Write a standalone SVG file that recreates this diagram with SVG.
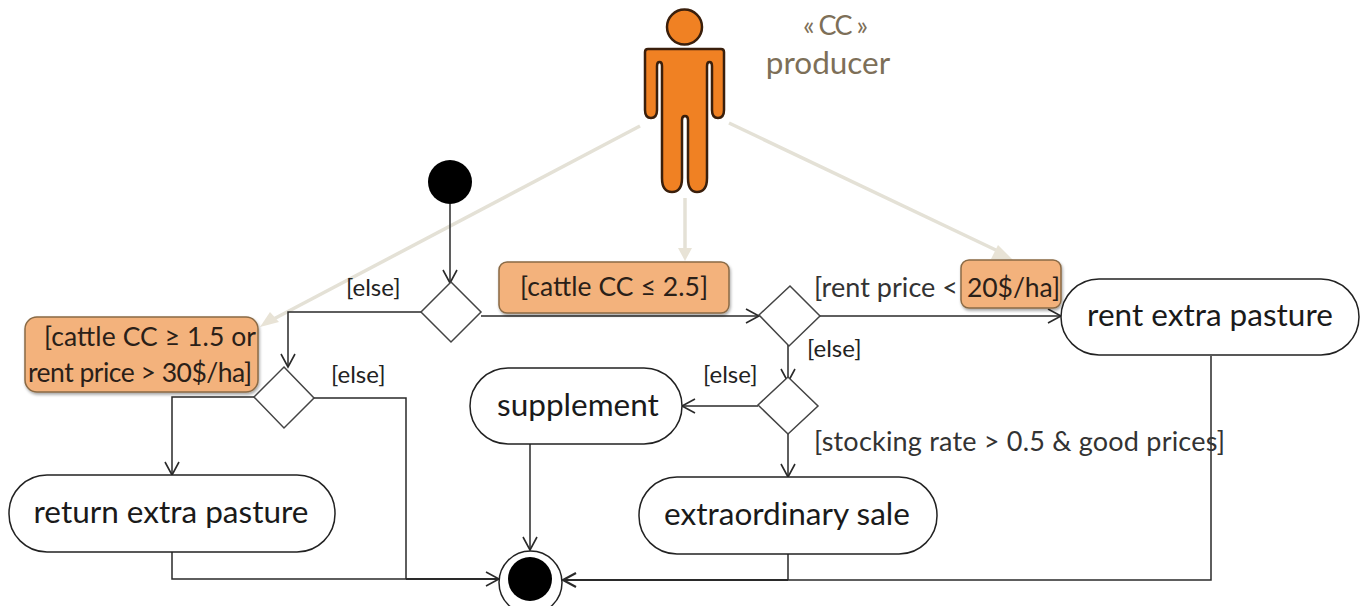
<svg xmlns="http://www.w3.org/2000/svg" width="1366" height="606" viewBox="0 0 1366 606">
<style>
text{font-family:Lato,"Liberation Sans",sans-serif;fill:#1a1a1a}
.lg{font-size:31.5px}
.md{font-size:26.5px;fill:#2a2018}
.sm{font-size:24px;fill:#222}
.gd{font-size:27px;fill:#333}
.act{fill:#fff;stroke:#222;stroke-width:1.5}
.dec{fill:#fff;stroke:#444;stroke-width:1.5}
.note{fill:#f3b27c;stroke:#8a6a45;stroke-width:1.5}
.c{fill:none;stroke:#2a2a2a;stroke-width:1.5}
.b{fill:none;stroke:#2a2a2a;stroke-width:2.2}
.a{fill:none;stroke:#2a2a2a;stroke-width:1.6}
.t{fill:none;stroke:#e4e1d6;stroke-width:3.5}
.th{fill:#e8e3d6}
</style>
<defs>
<filter id="sh" x="-5%" y="-5%" width="110%" height="115%"><feDropShadow dx="1" dy="2" stdDeviation="1.5" flood-color="#000" flood-opacity="0.35"/></filter>
</defs>
<g id="connectors">
<path class="t" d="M640 126L268 322"/><path class="th" d="M260 327L270 312L279 322Z"/>
<path class="t" d="M685 198V252"/><path class="th" d="M678 248H692L685 261Z"/>
<path class="t" d="M729 123L1000 252"/><path class="th" d="M998 245L1013 260L991 259Z"/>
<path class="c" d="M450 204V282"/><path class="a" d="M443 270L450 283L457 270"/>
<path class="c" d="M421 312H288V366"/><path class="a" d="M281 354L288 367L295 354"/>
<path class="c" d="M481 316H758"/><path class="a" d="M746 309L759 316L746 323"/>
<path class="c" d="M820 316H1060"/><path class="a" d="M1048 309L1061 316L1048 323"/>
<path class="c" d="M788 345V381"/><path class="a" d="M781 369L788 382L795 369"/>
<path class="c" d="M758 406H683"/><path class="a" d="M695 399L682 406L695 413"/>
<path class="c" d="M788 434V476"/><path class="a" d="M781 464L788 477L795 464"/>
<path class="c" d="M254 397H172V474"/><path class="a" d="M165 462L172 475L179 462"/>
<path class="c" d="M314 398H406V579"/>
<path class="c" d="M172 552V579H406"/><path class="b" d="M406 579H498"/><path class="a" d="M486 572L499 579L486 586"/>
<path class="c" d="M530 444V549"/><path class="a" d="M523 537L530 550L537 537"/>
<path class="c" d="M788 554V580"/>
<path class="c" d="M1211 356V580H788"/><path class="b" d="M788 580H564"/><path class="b" d="M576 573L563 580L576 587"/>
</g>
<g id="actor">
<circle cx="684.5" cy="27" r="17.5" fill="#f08123" stroke="#3a1f0c" stroke-width="2.5"/>
<path d="M648 49H721Q724 49 724 52V110Q724 118 718 118Q712 118 712 110V66Q712 62 709.5 62Q707 62 707 66V178Q707 192 697 192Q688 192 688 178V120Q688 116 685 116Q682 116 682 120V178Q682 192 672 192Q662 192 662 178V66Q662 62 659.5 62Q657 62 657 66V110Q657 118 651 118Q645 118 645 110V52Q645 49 648 49Z" fill="#f08123" stroke="#3a1f0c" stroke-width="2.5"/>
</g>
<g id="stereotype">
<text x="803" y="35" textLength="65" style="font-size:27px;fill:#7d6f58">« CC »</text>
<text x="828" y="74" text-anchor="middle" style="font-size:31.5px;fill:#7d6f58">producer</text>
</g>
<g id="start"><circle cx="450" cy="182" r="22" fill="#000"/></g>
<g id="note-cattle-low">
<rect class="note" x="25" y="317" width="233" height="75" rx="12" filter="url(#sh)"/>
<text class="md" x="44" y="346" textLength="212">[cattle CC ≥ 1.5 or</text>
<text class="md" x="28" y="382" textLength="224">rent price &gt; 30$/ha]</text>
</g>
<g id="note-cattle-high">
<rect class="note" x="499" y="262" width="230" height="51" rx="8" filter="url(#sh)"/>
<text class="md" x="520" y="296" textLength="188">[cattle CC ≤ 2.5]</text>
</g>
<g id="d1"><path class="dec" d="M451 282L481 312L451 342L421 312Z"/></g>
<g id="d2"><path class="dec" d="M284 367L314 398L284 428L254 397Z"/></g>
<g id="d3"><path class="dec" d="M790 286L820 316L789 346L759 315Z"/></g>
<g id="d4"><path class="dec" d="M788 377L818 406L788 434L758 405Z"/></g>
<g id="guards">
<text class="sm" x="346" y="296">[else]</text>
<text class="sm" x="331" y="383">[else]</text>
<text class="sm" x="807" y="357">[else]</text>
<text class="sm" x="703" y="383">[else]</text>
<text class="gd" x="814" y="297" textLength="144">[rent price &lt;</text>
<text class="gd" x="814" y="451" textLength="411">[stocking rate &gt; 0.5 &amp; good prices]</text>
</g>
<g id="note-rent">
<rect class="note" x="961" y="260" width="100" height="48" rx="8" filter="url(#sh)"/>
<text class="md" x="967" y="297" textLength="93">20$/ha]</text>
</g>
<g id="rent">
<rect class="act" x="1061" y="279" width="298" height="76" rx="38"/>
<text class="lg" x="1210" y="326" text-anchor="middle">rent extra pasture</text>
</g>
<g id="supplement">
<rect class="act" x="470" y="368" width="212" height="76" rx="38"/>
<text class="lg" x="578" y="416" text-anchor="middle">supplement</text>
</g>
<g id="return">
<rect class="act" x="9" y="475" width="326" height="77" rx="38"/>
<text class="lg" x="171" y="523" text-anchor="middle">return extra pasture</text>
</g>
<g id="sale">
<rect class="act" x="639" y="477" width="298" height="77" rx="38"/>
<text class="lg" x="787" y="525" text-anchor="middle">extraordinary sale</text>
</g>
<g id="end">
<circle cx="530.5" cy="582.5" r="31.5" fill="#fff" stroke="#222" stroke-width="1.5"/>
<circle cx="530" cy="579" r="22" fill="#000"/>
</g>
</svg>
